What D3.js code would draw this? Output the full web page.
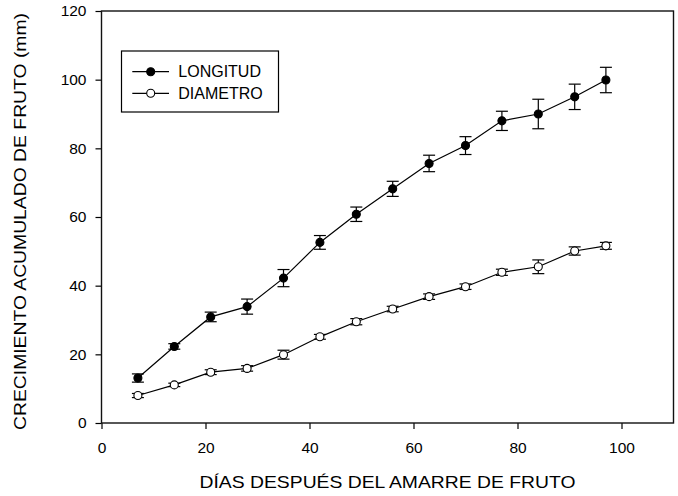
<!DOCTYPE html>
<html>
<head>
<meta charset="utf-8">
<script src="https://cdn.jsdelivr.net/npm/d3@7"></script>
<style>
  body { margin: 0; background: #fff; }
  text { font-family: "Liberation Sans", Arial, sans-serif; fill: #000; }
</style>
</head>
<body>
<script>
// days after fruit set
var dias = [7, 14, 21, 28, 35, 42, 49, 56, 63, 70, 77, 84, 91, 97];
var longitud = [13.1, 22.3, 30.9, 33.9, 42.2, 52.6, 60.8, 68.2, 75.6, 80.8, 88.0, 90.0, 95.0, 99.9];
var longitudErr = [1.2, 0.8, 1.4, 2.2, 2.5, 2.0, 2.1, 2.2, 2.4, 2.6, 2.8, 4.3, 3.7, 3.7];
var diametro = [8.0, 11.1, 14.8, 15.9, 19.9, 25.1, 29.5, 33.2, 36.8, 39.7, 43.9, 45.5, 50.1, 51.6];
var diametroErr = [0.6, 0.5, 0.7, 0.8, 1.3, 0.7, 0.9, 0.8, 0.8, 0.8, 0.9, 2.0, 1.2, 1.0];
var xTicks = [0, 20, 40, 60, 80, 100];
var yTicks = [0, 20, 40, 60, 80, 100, 120];
var seriesNames = ["LONGITUD", "DIAMETRO"];

var width = 678, height = 496;
var margin = {top: 11, right: 4.5, bottom: 73, left: 101.5};

var svg = d3.select("body").append("svg")
	.attr("width", width)
	.attr("height", height);

var x = d3.scaleLinear().domain([0, 110]).range([margin.left, width - margin.right]);
var y = d3.scaleLinear().domain([0, 120]).range([height - margin.bottom, margin.top]);

var series = [
	{name: seriesNames[0], vals: longitud, err: longitudErr, fill: "#000"},
	{name: seriesNames[1], vals: diametro, err: diametroErr, fill: "#fff"}
];

// axes
var xAxis = svg.append("g")
	.attr("transform", "translate(0," + y(0) + ")")
	.call(d3.axisBottom(x).tickValues(xTicks).tickSize(6).tickPadding(13));
var yAxis = svg.append("g")
	.attr("transform", "translate(" + x(0) + ",0)")
	.call(d3.axisLeft(y).tickValues(yTicks).tickSize(6).tickPadding(9));
[xAxis, yAxis].forEach(function(g){
	g.select(".domain").remove();
	g.selectAll("line").attr("stroke", "#000").attr("stroke-width", 1.2);
	g.selectAll("text").style("font-size", "15.5px").style("font-family", "Liberation Sans, Arial, sans-serif");
});

// frame
svg.append("rect")
	.attr("x", x(0))
	.attr("y", y(120))
	.attr("width", x(110) - x(0))
	.attr("height", y(0) - y(120))
	.attr("fill", "none")
	.attr("stroke", "#111")
	.attr("stroke-width", 1.4);

var line = d3.line()
	.x(function(d){return x(d.x);})
	.y(function(d){return y(d.y);});

series.slice().reverse().forEach(function(s){
	var pts = dias.map(function(d, i){return {x: d, y: s.vals[i], e: s.err[i]};});
	var g = svg.append("g");
	g.append("path")
		.datum(pts)
		.attr("d", line)
		.attr("fill", "none")
		.attr("stroke", "#000")
		.attr("stroke-width", 1.2);
	var bars = g.selectAll(".err")
		.data(pts)
		.enter()
		.append("g");
	bars.append("line")
		.attr("x1", function(d){return x(d.x);})
		.attr("x2", function(d){return x(d.x);})
		.attr("y1", function(d){return y(d.y - d.e);})
		.attr("y2", function(d){return y(d.y + d.e);})
		.attr("stroke", "#000").attr("stroke-width", 1.2);
	[-1, 1].forEach(function(sign){
		bars.append("line")
			.attr("x1", function(d){return x(d.x) - 6;})
			.attr("x2", function(d){return x(d.x) + 6;})
			.attr("y1", function(d){return y(d.y + sign * d.e);})
			.attr("y2", function(d){return y(d.y + sign * d.e);})
			.attr("stroke", "#000").attr("stroke-width", 1.2);
	});
	g.selectAll("circle")
		.data(pts)
		.enter()
		.append("circle")
		.attr("cx", function(d){return x(d.x);})
		.attr("cy", function(d){return y(d.y);})
		.attr("r", 4)
		.attr("fill", s.fill)
		.attr("stroke", "#000")
		.attr("stroke-width", 1.1);
});

// legend
var legend = svg.append("g");
legend.append("rect")
	.attr("x", 121.5).attr("y", 51)
	.attr("width", 157).attr("height", 61)
	.attr("fill", "#fff")
	.attr("stroke", "#000")
	.attr("stroke-width", 1.2);
var items = legend.selectAll(".item")
	.data(series)
	.enter()
	.append("g")
	.attr("transform", function(d, i){return "translate(0," + (71.7 + i * 21.6) + ")";});
items.append("line")
	.attr("x1", 132.3).attr("x2", 169)
	.attr("stroke", "#000").attr("stroke-width", 1.2);
items.append("circle")
	.attr("cx", 150.7).attr("r", 4)
	.attr("fill", function(d){return d.fill;})
	.attr("stroke", "#000").attr("stroke-width", 1.1);
items.append("text")
	.attr("x", 178.3)
	.attr("dy", "0.36em")
	.style("font-size", "16px")
	.text(function(d){return d.name;});

// axis titles
svg.append("text")
	.attr("x", (x(0) + x(110)) / 2)
	.attr("y", 488)
	.attr("text-anchor", "middle")
	.attr("textLength", 376)
	.attr("lengthAdjust", "spacingAndGlyphs")
	.style("font-size", "17px")
	.text("DÍAS DESPUÉS DEL AMARRE DE FRUTO");

svg.append("text")
	.attr("transform", "translate(25.5," + 221.5 + ") rotate(-90)")
	.attr("text-anchor", "middle")
	.attr("textLength", 417)
	.attr("lengthAdjust", "spacingAndGlyphs")
	.style("font-size", "17px")
	.text("CRECIMIENTO ACUMULADO DE FRUTO (mm)");
</script>
</body>
</html>
